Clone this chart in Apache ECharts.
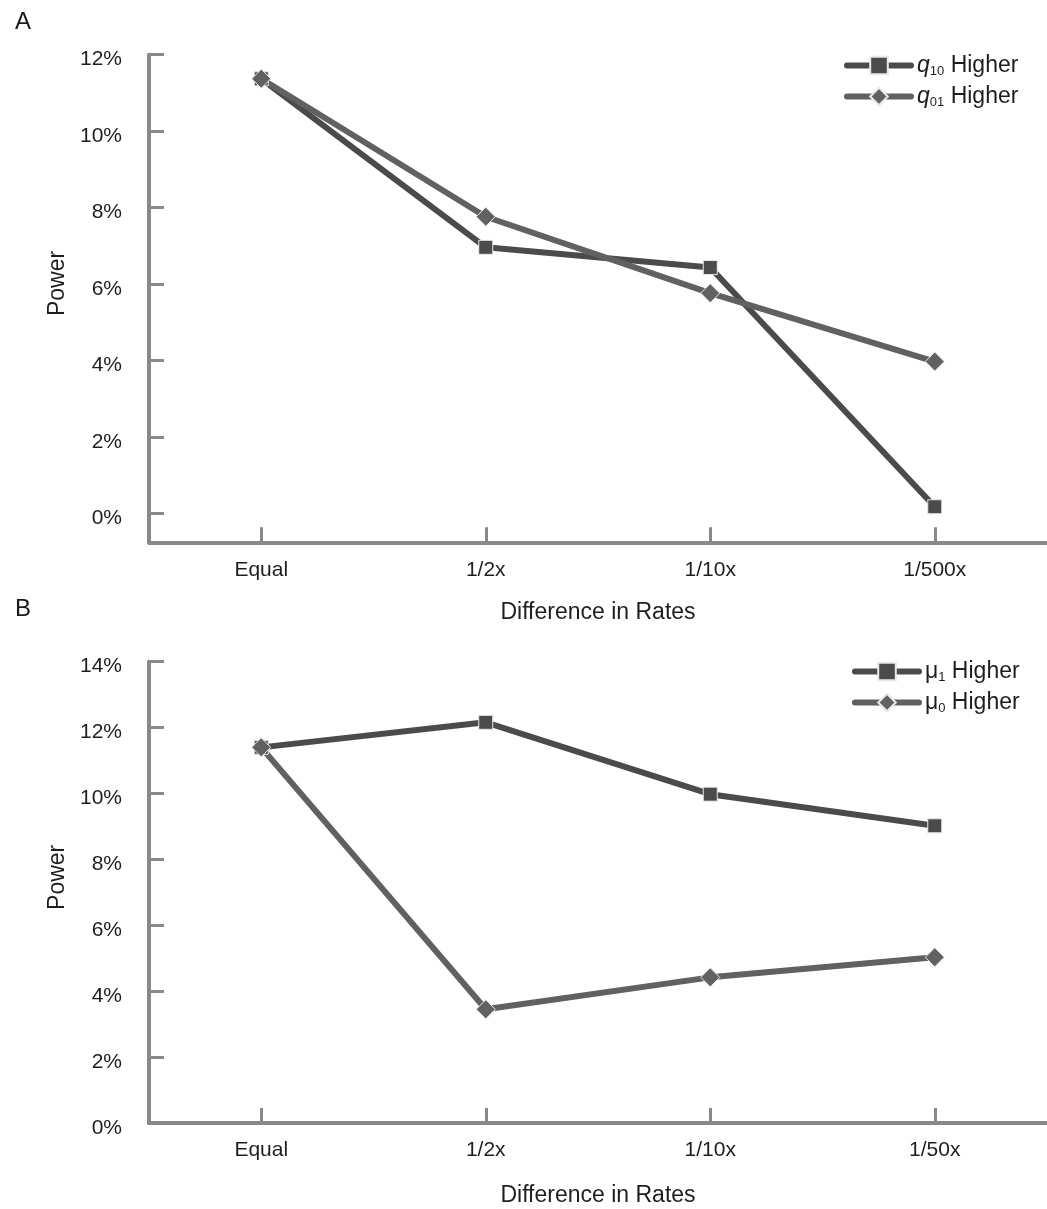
<!DOCTYPE html>
<html>
<head>
<meta charset="utf-8">
<script src="https://cdn.jsdelivr.net/npm/echarts@6/dist/echarts.min.js"></script>
<style>
html,body{margin:0;padding:0;background:#fff;}
#chart{width:1047px;height:1209px;}
</style>
</head>
<body>
<div id="chart"></div>
<script>
// ---- data ----
const categoriesA = ['Equal', '1/2x', '1/10x', '1/500x'];
const categoriesB = ['Equal', '1/2x', '1/10x', '1/50x'];
const seriesNamesA = ['q10 Higher', 'q01 Higher'];
const seriesNamesB = ['μ1 Higher', 'μ0 Higher'];
const q10Higher = [11.37, 6.96, 6.43, 0.17];
const q01Higher = [11.37, 7.76, 5.76, 3.97];
const mu1Higher = [11.40, 12.16, 9.98, 9.02];
const mu0Higher = [11.40, 3.45, 4.42, 5.03];
const yTicksA = [0, 2, 4, 6, 8, 10, 12];
const yTicksB = [0, 2, 4, 6, 8, 10, 12, 14];
const legendLabels = {
  'q10 Higher': '{i|q}{s|10} Higher',
  'q01 Higher': '{i|q}{s|01} Higher',
  'μ1 Higher': '{n|μ}{s|1} Higher',
  'μ0 Higher': '{n|μ}{s|0} Higher'
};

const FONT = 'Liberation Sans, Arial, sans-serif';
const AXIS_GRAY = '#898989';
const DARK = '#4b4b4b';
const LIGHT = '#606160';
const TXT = '#1e1e1e';

const chart = echarts.init(document.getElementById('chart'), null, {renderer: 'canvas'});

function xAxisCfg(gridIndex, cats, gap) {
  return {
    type: 'category', gridIndex: gridIndex, data: cats, boundaryGap: true,
    name: 'Difference in Rates', nameLocation: 'middle', nameGap: gap,
    nameTextStyle: {fontFamily: FONT, fontSize: 23, color: TXT},
    axisLine: {onZero: false, lineStyle: {color: AXIS_GRAY, width: 4}},
    axisTick: {show: true, inside: true, alignWithLabel: true, length: 15, lineStyle: {color: AXIS_GRAY, width: 3}},
    axisLabel: {fontFamily: FONT, fontSize: 21, color: TXT, margin: 17},
    splitLine: {show: false}
  };
}
function yAxisCfg(gridIndex, min, max, ticks) {
  return {
    type: 'value', gridIndex: gridIndex, min: min, max: max,
    name: 'Power', nameLocation: 'middle', nameGap: 73, nameRotate: 90,
    nameTextStyle: {fontFamily: FONT, fontSize: 23, color: TXT, padding: [0, 0, 0, 30]},
    axisLine: {show: true, lineStyle: {color: AXIS_GRAY, width: 4}},
    axisTick: {show: true, inside: true, length: 15, customValues: ticks, lineStyle: {color: AXIS_GRAY, width: 3}},
    axisLabel: {fontFamily: FONT, fontSize: 21, color: TXT, margin: 27, customValues: ticks,
      verticalAlign: 'top', lineHeight: 10, formatter: v => Math.round(v) + '%'},
    splitLine: {show: false}
  };
}
function lineSeries(name, data, idx, color, symbol, size) {
  return {
    type: 'line', name: name, xAxisIndex: idx, yAxisIndex: idx, data: data,
    symbol: symbol, symbolSize: size, showSymbol: true,
    lineStyle: {color: color, width: 6},
    itemStyle: {color: color, borderColor: '#e8e8e8', borderWidth: 1},
    emphasis: {disabled: true}
  };
}
const richLegend = {
  i: {fontFamily: FONT, fontSize: 23, fontStyle: 'italic', color: TXT},
  n: {fontFamily: FONT, fontSize: 23, color: TXT},
  s: {fontFamily: FONT, fontSize: 13, color: TXT, padding: [12, 0, 0, 0]}
};
function legendCfg(names, left, top) {
  return {
    data: names, orient: 'vertical', left: left, top: top, padding: 0,
    itemWidth: 64, itemHeight: 22, itemGap: 7,
    lineStyle: {width: 6, cap: 'round'},
    formatter: n => legendLabels[n],
    textStyle: {fontFamily: FONT, fontSize: 23, color: TXT, padding: [0, 0, 0, 1], rich: richLegend}
  };
}

const option = {
  animation: false,
  backgroundColor: '#fff',
  title: [
    {text: 'A', left: 10, top: 5, textStyle: {fontFamily: FONT, fontSize: 24, fontWeight: 'normal', color: '#1a1a1a'}},
    {text: 'B', left: 10, top: 592, textStyle: {fontFamily: FONT, fontSize: 24, fontWeight: 'normal', color: '#1a1a1a'}}
  ],
  legend: [legendCfg(seriesNamesA, 844, 54), legendCfg(seriesNamesB, 852, 660)],
  grid: [
    {left: 149, right: 0, top: 54.7, height: 487.6},
    {left: 149, right: 0, top: 661.7, height: 461.3}
  ],
  xAxis: [xAxisCfg(0, categoriesA, 59), xAxisCfg(1, categoriesB, 61)],
  yAxis: [yAxisCfg(0, -0.76, 12, yTicksA), yAxisCfg(1, 0, 14, yTicksB)],
  series: [
    lineSeries(seriesNamesA[0], q10Higher, 0, DARK, 'rect', 14),
    lineSeries(seriesNamesA[1], q01Higher, 0, LIGHT, 'diamond', 19),
    lineSeries(seriesNamesB[0], mu1Higher, 1, DARK, 'rect', 14),
    lineSeries(seriesNamesB[1], mu0Higher, 1, LIGHT, 'diamond', 19)
  ]
};
chart.setOption(option);
</script>
</body>
</html>
